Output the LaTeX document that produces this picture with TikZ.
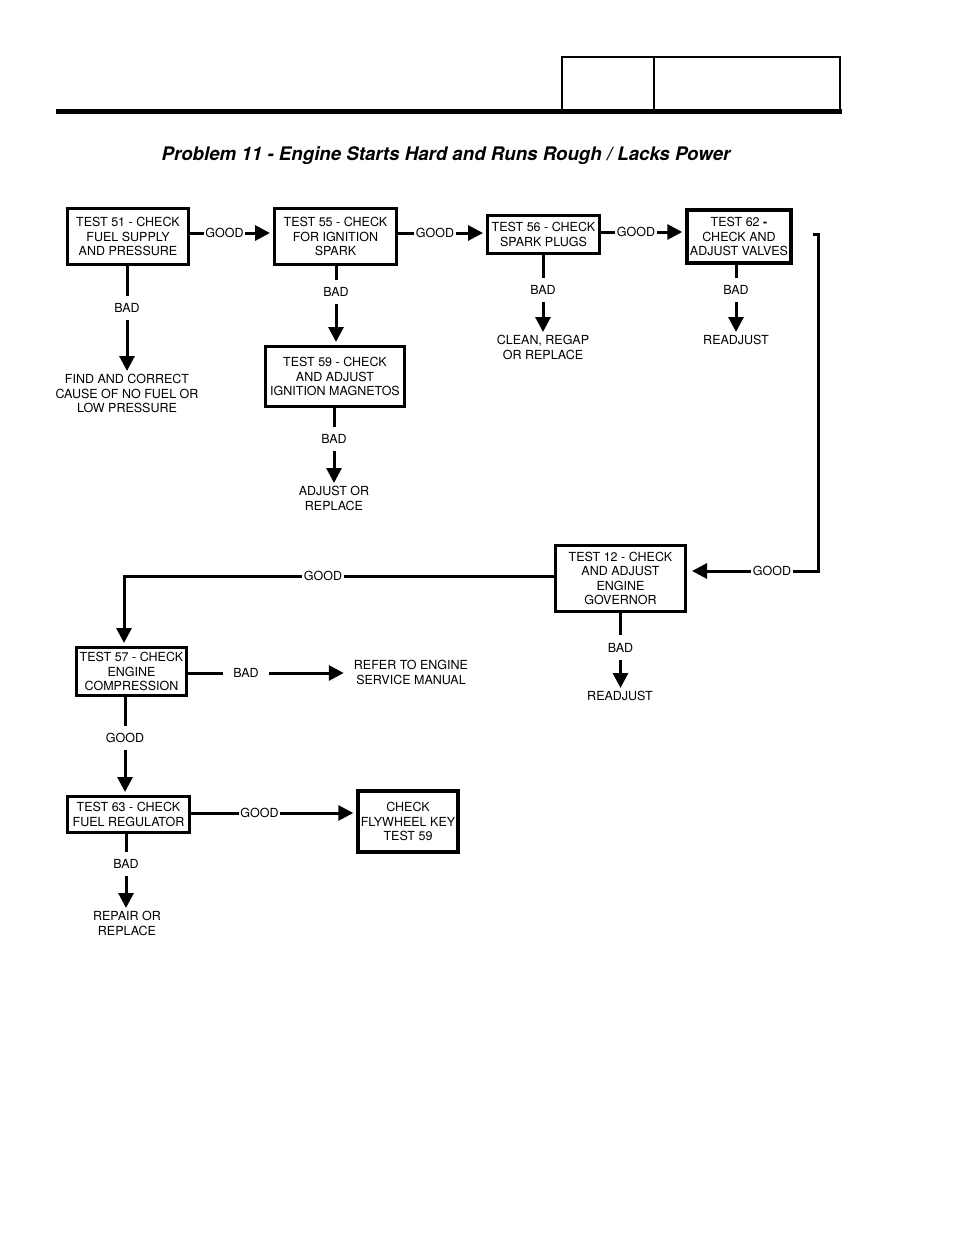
\documentclass[tikz,border=0pt]{standalone}
\usepackage{fontspec}
\setmainfont{TeX Gyre Heros}
\usetikzlibrary{arrows.meta,calc}
\begin{document}
\begin{tikzpicture}[x=1pt,y=-1pt,
  txt/.style={font=\fontsize{12.5}{14.5}\selectfont},
  box/.style={txt,draw,line width=3pt,align=center,inner sep=0pt},
  lbl/.style={txt,inner xsep=1.5pt,inner ysep=7.5pt,text height=9pt,text depth=0pt},
  outtxt/.style={txt,align=center,inner sep=3pt},
  conn/.style={line width=3pt},
  arr/.style={conn,-{Triangle[length=15pt,width=15pt]}},
  tobox/.style={arr,shorten >=3pt}]
\useasboundingbox (0,0) rectangle (954,1235);
% header
\draw[line width=5pt] (56,111.5) -- (842,111.5);
\draw[line width=2pt] (562,109) -- (562,57) -- (840,57) -- (840,109);
\draw[line width=2pt] (654,57) -- (654,109);
\node[font=\fontsize{18.7}{21}\selectfont\bfseries\itshape] (title) at (446,156) {Problem 11 - Engine Starts Hard and Runs Rough / Lacks Power};
% boxes
\node[box,minimum width=121pt,minimum height=56pt] (t51) at (128,236.5) {TEST 51 - CHECK\\FUEL SUPPLY\\AND PRESSURE};
\node[box,minimum width=122pt,minimum height=56pt] (t55) at (335.5,236.5) {TEST 55 - CHECK\\FOR IGNITION\\SPARK};
\node[box,minimum width=112pt,minimum height=38pt] (t56) at (543.5,234.5) {TEST 56 - CHECK\\SPARK PLUGS};
\node[box,line width=3.5pt,minimum width=104pt,minimum height=53pt] (t62) at (739,236.5) {TEST 62 \textbf{-}\\CHECK AND\\ADJUST VALVES};
\node[box,minimum width=139pt,minimum height=60pt] (t59) at (335,376.5) {TEST 59 - CHECK\\AND ADJUST\\IGNITION MAGNETOS};
\node[box,minimum width=130pt,minimum height=66pt] (t12) at (620.5,578.5) {TEST 12 - CHECK\\AND ADJUST\\ENGINE\\GOVERNOR};
\node[box,minimum width=110pt,minimum height=48pt] (t57) at (131.5,671.5) {TEST 57 - CHECK\\ENGINE\\COMPRESSION};
\node[box,minimum width=122pt,minimum height=36pt] (t63) at (128.5,814.5) {TEST 63 - CHECK\\FUEL REGULATOR};
\node[box,line width=3.5pt,minimum width=100pt,minimum height=61pt] (fly) at (408,821.5) {CHECK\\FLYWHEEL KEY\\TEST 59};
% labels
\node[lbl] (g1) at (224.5,233) {GOOD};
\node[lbl] (g2) at (435,233) {GOOD};
\node[lbl] (g3) at (636,232) {GOOD};
\node[lbl] (b51) at (127,308) {BAD};
\node[lbl] (b55) at (336,292) {BAD};
\node[lbl] (b59) at (334,439) {BAD};
\node[lbl] (b56) at (543,290) {BAD};
\node[lbl] (b62) at (736,290) {BAD};
\node[lbl] (g4) at (772,571) {GOOD};
\node[lbl] (g5) at (323,576) {GOOD};
\node[lbl] (b12) at (620.5,647.5) {BAD};
\node[lbl,inner xsep=10pt] (b57) at (246,673) {BAD};
\node[lbl] (g6) at (125,738) {GOOD};
\node[lbl] (g7) at (259.5,813) {GOOD};
\node[lbl] (b63) at (126,864) {BAD};
% outcome texts
\node[outtxt,anchor=north] (o51) at (127,371) {FIND AND CORRECT\\CAUSE OF NO FUEL OR\\LOW PRESSURE};
\node[outtxt,anchor=north] (o59) at (334,483) {ADJUST OR\\REPLACE};
\node[outtxt,anchor=north] (o56) at (543,332) {CLEAN, REGAP\\OR REPLACE};
\node[outtxt,anchor=north] (o62) at (736,332) {READJUST};
\node[outtxt,anchor=north] (o12) at (620,688) {READJUST};
\node[outtxt,inner xsep=10pt] (o57) at (411,672.5) {REFER TO ENGINE\\SERVICE MANUAL};
\node[outtxt,anchor=north] (o63) at (127,908) {REPAIR OR\\REPLACE};
\coordinate (c62) at (813,234);
% connectors
\draw[conn] (t51.east |- g1) -- (g1);
\draw[tobox] (g1) -- (t55.west |- g1);
\draw[conn] (t55.east |- g2) -- (g2);
\draw[tobox] (g2) -- (t56.west |- g2);
\draw[conn] (t56.east |- g3) -- (g3);
\draw[tobox] (g3) -- (t62.west |- g3);
\draw[conn] (t51.south -| b51) -- (b51);
\draw[arr] (b51) -- (o51.north -| b51);
\draw[conn] (t55.south -| b55) -- (b55);
\draw[tobox] (b55) -- (t59.north -| b55);
\draw[conn] (t59.south -| b59) -- (b59);
\draw[arr] (b59) -- (o59.north -| b59);
\draw[conn] (t56.south -| b56) -- (b56);
\draw[arr] (b56) -- (o56.north -| b56);
\draw[conn] (t62.south -| b62) -- (b62);
\draw[arr] (b62) -- (o62.north -| b62);
\draw[conn] (c62) -- ++(5,0) |- (g4);
\draw[arr,shorten >=5pt] (g4) -- (t12.east |- g4);
\draw[conn] (t12.west |- g5) -- (g5);
\draw[tobox] (g5) -| ([xshift=-7.5pt]t57.north);
\draw[conn] (t12.south -| b12) -- (b12);
\draw[arr] (b12) -- (o12.north -| b12);
\draw[conn] (t57.east |- b57) -- (b57);
\draw[arr] (b57) -- (o57.west |- b57);
\draw[conn] (t57.south -| g6) -- (g6);
\draw[tobox] (g6) -- (t63.north -| g6);
\draw[conn] (t63.east |- g7) -- (g7);
\draw[tobox] (g7) -- (fly.west |- g7);
\draw[conn] (t63.south -| b63) -- (b63);
\draw[arr] (b63) -- (o63.north -| b63);
\end{tikzpicture}
\end{document}
